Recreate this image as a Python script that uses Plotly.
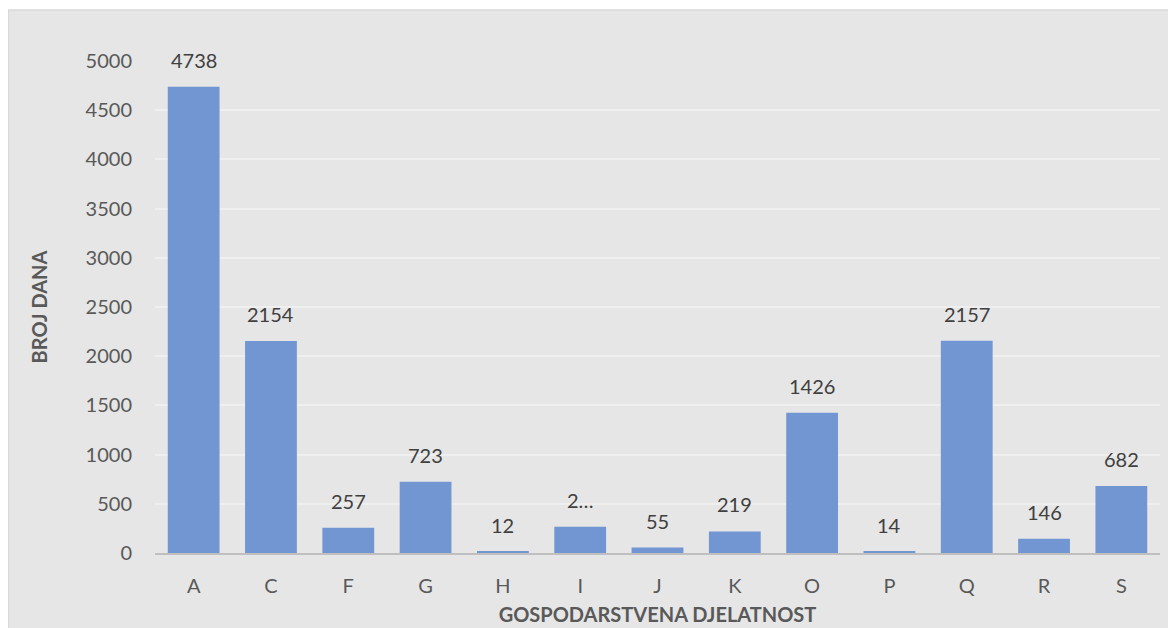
import plotly.graph_objects as go

categories = ["A", "C", "F", "G", "H", "I", "J", "K", "O", "P", "Q", "R", "S"]
values = [4738, 2154, 257, 723, 12, 268, 55, 219, 1426, 14, 2157, 146, 682]
labels = ["4738", "2154", "257", "723", "12", "2…", "55", "219", "1426", "14", "2157", "146", "682"]
y_ticks = [0, 500, 1000, 1500, 2000, 2500, 3000, 3500, 4000, 4500, 5000]

FONT = "Lato, 'Open Sans', sans-serif"
W, H = 1168, 620
L, R, T, B = 147, 16, 53, 75
pw, ph = W - L - R, H - T - B

fig = go.Figure()
fig.add_trace(go.Bar(
    x=categories, y=values,
    marker=dict(color="#7296d2", line=dict(width=0)),
    width=0.67, hoverinfo="x+y",
))

annotations = []
for c, v, t in zip(categories, values, labels):
    annotations.append(dict(
        x=c, y=v, xref="x", yref="y", text=t, showarrow=False,
        yshift=27, yanchor="middle",
        font=dict(family=FONT, size=20, color="#404040"),
    ))

fig.update_layout(
    width=W, height=H,
    margin=dict(l=L, r=R, t=T, b=B, pad=0, autoexpand=False),
    paper_bgcolor="#e6e6e6",
    plot_bgcolor="rgba(0,0,0,0)",
    showlegend=False,
    annotations=annotations,
    shapes=[
        dict(type="rect", xref="paper", yref="paper",
             x0=-(L + 2) / pw, x1=(W - L + 5) / pw,
             y0=1 + (T - 2) / ph, y1=1 + (T + 5) / ph,
             fillcolor="white", line=dict(width=0), layer="below"),
        dict(type="line", xref="paper", yref="paper",
             x0=-(L + 2) / pw, x1=(W - L + 5) / pw,
             y0=1 + (T - 2) / ph, y1=1 + (T - 2) / ph,
             line=dict(color="#d9d9d9", width=1.5), layer="below"),
        dict(type="line", xref="paper", yref="paper",
             x0=-(L - 0.5) / pw, x1=-(L - 0.5) / pw,
             y0=-(B + 5) / ph, y1=1 + (T - 2) / ph,
             line=dict(color="#d9d9d9", width=1.5), layer="below"),
    ],
    xaxis=dict(
        type="category", showgrid=False, zeroline=False, automargin=False,
        showline=True, linecolor="#bfbfbf", linewidth=2,
        ticks="", ticklabelstandoff=14,
        tickfont=dict(family=FONT, size=20, color="#595959"),
        title=dict(text="<b>GOSPODARSTVENA DJELATNOST</b>", standoff=12,
                   font=dict(family=FONT, size=20, color="#595959")),
    ),
    yaxis=dict(
        range=[0, 5000], tickvals=y_ticks, showgrid=True, automargin=False,
        gridcolor="#efefef", gridwidth=2, zeroline=False,
        showline=False, ticks="", ticklabelstandoff=22,
        tickfont=dict(family=FONT, size=20, color="#595959"),
        title=dict(text="<b>BROJ DANA</b>", standoff=32,
                   font=dict(family=FONT, size=20, color="#595959")),
    ),
    bargap=0.33,
)

fig.write_html("out.html")
